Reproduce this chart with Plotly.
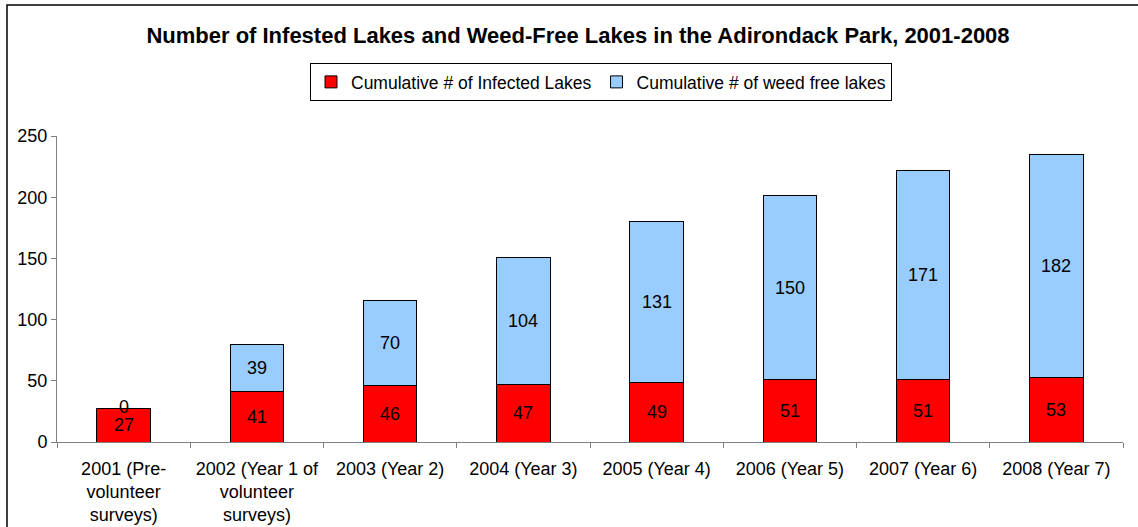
import plotly.graph_objects as go

categories = [
    "2001 (Pre-<br>volunteer<br>surveys)",
    "2002 (Year 1 of<br>volunteer<br>surveys)",
    "2003 (Year 2)",
    "2004 (Year 3)",
    "2005 (Year 4)",
    "2006 (Year 5)",
    "2007 (Year 6)",
    "2008 (Year 7)",
]
infected = [27, 41, 46, 47, 49, 51, 51, 53]
weed_free = [0, 39, 70, 104, 131, 150, 171, 182]

FONT = "Liberation Sans, Arial, sans-serif"

fig = go.Figure()
fig.add_trace(go.Bar(
    x=categories, y=infected, name="Cumulative # of Infected Lakes",
    marker=dict(color="#FF0000", line=dict(color="#000000", width=1)),
))
fig.add_trace(go.Bar(
    x=categories, y=weed_free, name="Cumulative # of weed free lakes",
    marker=dict(color="#99CCFF", line=dict(color="#000000", width=1)),
))

annotations = []
for c, a, b in zip(categories, infected, weed_free):
    annotations.append(dict(x=c, y=a / 2, xref="x", yref="y", text=str(a),
                            showarrow=False, font=dict(size=18, color="#000")))
    annotations.append(dict(x=c, y=a + b / 2, xref="x", yref="y", text=str(b),
                            showarrow=False, font=dict(size=18, color="#000"),
                            yshift=2 if b == 0 else 0))

W, H = 1138, 527
ml, mr, mt, mb = 57, 15, 136, 85
pw, ph = W - ml - mr, H - mt - mb

fig.update_layout(
    width=W, height=H,
    margin=dict(l=ml, r=mr, t=mt, b=mb),
    barmode="stack", bargap=0.6,
    plot_bgcolor="white", paper_bgcolor="white",
    font=dict(family=FONT, size=18, color="#000"),
    title=dict(text="<b>Number of Infested Lakes and Weed-Free Lakes in the Adirondack Park, 2001-2008</b>",
               x=(578) / W, xanchor="center", y=1 - 35 / H, yanchor="middle",
               font=dict(size=22, color="#000")),
    legend=dict(orientation="h", x=(601 - ml) / pw, xanchor="center",
                y=1 + (mt - 82) / ph, yanchor="middle",
                bordercolor="#000", borderwidth=1, bgcolor="white",
                font=dict(size=17.5), traceorder="normal",
                itemwidth=30),
    xaxis=dict(showline=True, linecolor="#808080", linewidth=1,
               ticks="outside", tickson="boundaries", ticklen=5, tickcolor="#808080",
               showgrid=False, tickfont=dict(size=18), ticklabelstandoff=10,
               automargin=False),
    yaxis=dict(range=[0, 250], dtick=50, showline=True, linecolor="#808080", linewidth=1,
               ticks="outside", ticklen=5, tickcolor="#808080", showgrid=False,
               zeroline=False, tickfont=dict(size=18), automargin=False),
    annotations=annotations,
    shapes=[dict(type="rect", xref="paper", yref="paper",
                 x0=(7 - ml) / pw, x1=(W + 20 - ml) / pw,
                 y0=-(H + 20 - mt - ph) / ph, y1=1 + (mt - 5) / ph,
                 line=dict(color="#000", width=1.5))],
)

fig.write_html("out.html")
